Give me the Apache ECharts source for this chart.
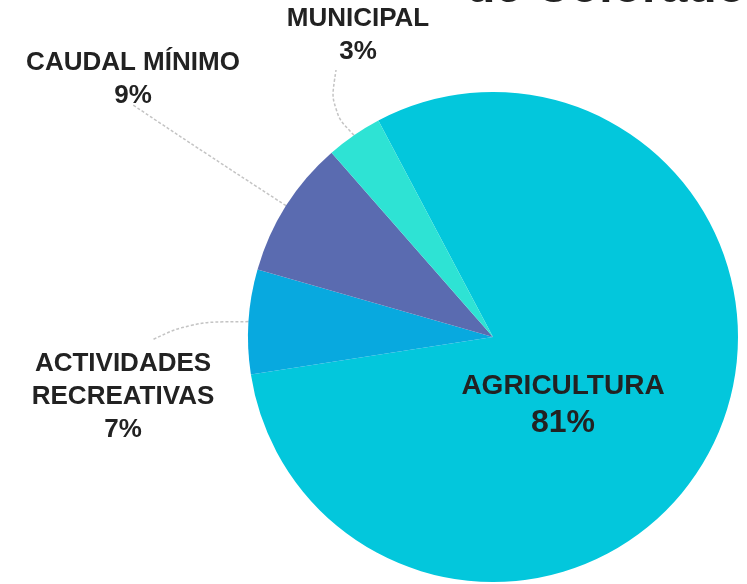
<!DOCTYPE html>
<html>
<head>
<meta charset="utf-8">
<script src="https://cdn.jsdelivr.net/npm/echarts@6/dist/echarts.min.js"></script>
<style>
html,body{margin:0;padding:0;background:#fff;}
#c{width:747px;height:584px;}
</style>
</head>
<body>
<div id="c"></div>
<script>
const categories = ['AGRICULTURA', 'ACTIVIDADES\nRECREATIVAS', 'CAUDAL MÍNIMO', 'MUNICIPAL'];
const values = [80.3, 6.9, 9.1, 3.7];
const pctLabels = ['81%', '7%', '9%', '3%'];
const colors = ['#03C7DC', '#08A9DF', '#5A6BB0', '#2EE3D4'];

// label anchor (center-x, top-y) and leader line end points
const labelPos = [
  {x: 563, y: 368, big: true},
  {x: 123, y: 347, end: [152, 340], mid: [190, 322]},
  {x: 133, y: 46, end: [133, 105], mid: [208, 155]},
  {x: 358, y: 2, end: [336, 70], mid: [330, 110]}
];

const chart = echarts.init(document.getElementById('c'));
const FONT = '"Liberation Sans", Arial, Helvetica, sans-serif';

const data = categories.map((n, i) => ({
  name: n,
  value: values[i],
  itemStyle: {color: colors[i]},
  label: i === 0 ? {
    position: 'inside',
    formatter: () => '{a|AGRICULTURA}\n{b|' + pctLabels[0] + '}',
    rich: {
      a: {fontSize: 28, fontWeight: 'bold', color: '#222', fontFamily: FONT, lineHeight: 37},
      b: {fontSize: 32, fontWeight: 'bold', color: '#222', fontFamily: FONT, lineHeight: 37}
    }
  } : {
    formatter: () => n + '\n' + pctLabels[i]
  },
  labelLine: {show: i !== 0}
}));

chart.setOption({
  animation: false,
  graphic: [{
    type: 'text',
    left: 466,
    top: -35,
    style: {
      text: 'de Colorado',
      fontSize: 48,
      fontWeight: 'bold',
      fontFamily: FONT,
      fill: '#222'
    }
  }],
  series: [{
    type: 'pie',
    center: [493, 337],
    radius: 245,
    startAngle: 117.9,
    clockwise: true,
    data: data,
    label: {
      show: true,
      position: 'outside',
      fontSize: 26,
      fontWeight: 'bold',
      fontFamily: FONT,
      color: '#222',
      lineHeight: 33,
      align: 'center'
    },
    labelLine: {
      show: true,
      smooth: 0.4,
      lineStyle: {color: '#c4c4c4', width: 1.5, type: [3, 2]}
    },
    labelLayout: function (params) {
      const i = params.dataIndex;
      const p = labelPos[i];
      const res = {x: p.x, y: p.y, align: 'center', verticalAlign: 'top'};
      if (p.end && params.labelLinePoints) {
        const pts = params.labelLinePoints;
        res.labelLinePoints = [pts[0], p.mid, p.end];
      }
      return res;
    }
  }]
});
</script>
</body>
</html>
